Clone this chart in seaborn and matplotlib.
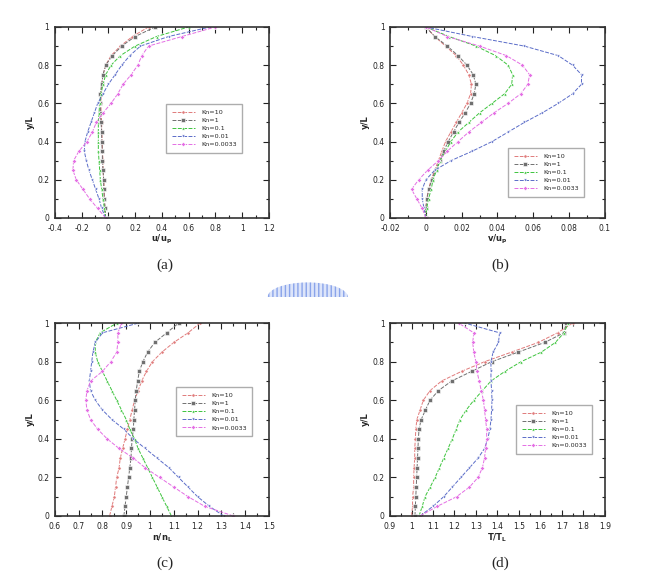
import matplotlib
matplotlib.use("Agg")
import matplotlib.pyplot as plt
import matplotlib.patches as mpatches
from matplotlib.ticker import MultipleLocator, AutoMinorLocator
import pandas as pd
import seaborn as sns

sns.set_style("ticks")
plt.rcParams['font.family'] = ['DejaVu Sans']

# y/L positions where values were read
y = [0, .05, .1, .15, .2, .25, .3, .35, .4, .45, .5, .55, .6, .65, .7, .75, .8, .85, .9, .95, 1.0]
kn_labels = ['Kn=10', 'Kn=1', 'Kn=0.1', 'Kn=0.01', 'Kn=0.0033']

# (a) u/u_p
u_kn10 = [-0.02, -0.025, -0.03, -0.03, -0.035, -0.04, -0.04, -0.045, -0.045, -0.05, -0.05,
          -0.055, -0.055, -0.055, -0.05, -0.04, -0.02, 0.02, 0.09, 0.18, 0.30]
u_kn1 = [-0.02, -0.025, -0.03, -0.035, -0.035, -0.04, -0.045, -0.045, -0.05, -0.05, -0.055,
         -0.06, -0.06, -0.06, -0.05, -0.04, -0.02, 0.03, 0.10, 0.20, 0.35]
u_kn01 = [-0.02, -0.03, -0.04, -0.05, -0.06, -0.065, -0.07, -0.075, -0.075, -0.075, -0.075,
          -0.07, -0.065, -0.055, -0.04, -0.02, 0.02, 0.09, 0.20, 0.36, 0.60]
u_kn001 = [-0.02, -0.05, -0.07, -0.095, -0.12, -0.145, -0.165, -0.18, -0.175, -0.155, -0.13,
           -0.105, -0.08, -0.04, 0.0, 0.05, 0.10, 0.16, 0.24, 0.45, 0.76]
u_kn0033 = [-0.02, -0.08, -0.14, -0.19, -0.24, -0.265, -0.26, -0.22, -0.16, -0.12, -0.09,
            -0.04, 0.02, 0.07, 0.11, 0.17, 0.22, 0.25, 0.30, 0.55, 0.80]

# (b) v/u_p
v_kn10 = [0, 0, 0.0005, 0.0015, 0.003, 0.005, 0.007, 0.009, 0.011, 0.014, 0.017,
          0.020, 0.023, 0.025, 0.0255, 0.024, 0.021, 0.017, 0.011, 0.005, 0]
v_kn1 = [0, 0, 0.0006, 0.0017, 0.0033, 0.0055, 0.0078, 0.010, 0.0125, 0.0155, 0.0185,
         0.022, 0.025, 0.027, 0.028, 0.0265, 0.023, 0.018, 0.012, 0.005, 0]
v_kn01 = [0, 0.0005, 0.0015, 0.003, 0.004, 0.006, 0.008, 0.011, 0.014, 0.018, 0.024,
          0.030, 0.037, 0.044, 0.048, 0.0485, 0.046, 0.039, 0.028, 0.013, 0]
v_kn001 = [0, -0.001, -0.002, -0.002, 0.0, 0.005, 0.014, 0.026, 0.037, 0.046, 0.055,
           0.065, 0.074, 0.082, 0.087, 0.087, 0.082, 0.074, 0.055, 0.026, 0]
v_kn0033 = [0, -0.002, -0.005, -0.008, -0.004, 0.001, 0.007, 0.012, 0.018, 0.024, 0.031,
            0.038, 0.046, 0.053, 0.057, 0.058, 0.054, 0.045, 0.030, 0.012, 0]

# (c) n/n_L
n_kn10 = [0.83, 0.84, 0.85, 0.855, 0.86, 0.87, 0.875, 0.885, 0.895, 0.905, 0.915,
          0.925, 0.935, 0.95, 0.965, 0.985, 1.01, 1.05, 1.10, 1.16, 1.21]
n_kn1 = [0.89, 0.895, 0.90, 0.905, 0.91, 0.915, 0.92, 0.922, 0.925, 0.93, 0.932,
         0.935, 0.938, 0.942, 0.948, 0.955, 0.97, 0.99, 1.02, 1.07, 1.12]
n_kn01 = [1.09, 1.07, 1.05, 1.03, 1.01, 0.99, 0.97, 0.95, 0.935, 0.915, 0.90,
          0.88, 0.86, 0.84, 0.82, 0.80, 0.78, 0.77, 0.77, 0.79, 0.86]
n_kn001 = [1.31, 1.25, 1.20, 1.16, 1.12, 1.08, 1.03, 0.98, 0.93, 0.89, 0.84,
           0.80, 0.77, 0.75, 0.745, 0.75, 0.755, 0.76, 0.77, 0.80, 0.95]
n_kn0033 = [1.35, 1.23, 1.16, 1.10, 1.04, 0.98, 0.93, 0.87, 0.82, 0.78, 0.75,
            0.735, 0.73, 0.735, 0.75, 0.80, 0.835, 0.86, 0.865, 0.865, 0.88]

# (d) T/T_L
t_kn10 = [1.0, 1.005, 1.005, 1.01, 1.01, 1.012, 1.015, 1.015, 1.018, 1.02, 1.025,
          1.04, 1.055, 1.086, 1.14, 1.233, 1.34, 1.466, 1.59, 1.68, 1.75]
t_kn1 = [1.016, 1.018, 1.02, 1.022, 1.024, 1.026, 1.028, 1.03, 1.032, 1.035, 1.045,
         1.065, 1.086, 1.125, 1.187, 1.28, 1.373, 1.497, 1.62, 1.71, 1.72]
t_kn01 = [1.035, 1.05, 1.063, 1.087, 1.11, 1.13, 1.15, 1.17, 1.19, 1.208, 1.226,
          1.255, 1.29, 1.33, 1.37, 1.435, 1.51, 1.605, 1.67, 1.71, 1.73]
t_kn001 = [1.04, 1.10, 1.15, 1.19, 1.23, 1.27, 1.31, 1.34, 1.355, 1.365, 1.37,
           1.373, 1.375, 1.373, 1.37, 1.37, 1.37, 1.38, 1.405, 1.41, 1.25]
t_kn0033 = [1.04, 1.12, 1.21, 1.27, 1.31, 1.33, 1.34, 1.345, 1.35, 1.35, 1.345,
            1.34, 1.335, 1.325, 1.315, 1.305, 1.30, 1.29, 1.285, 1.29, 1.22]

panels = [
    ('(a)', r'u/u$_\mathregular{p}$', (-0.4, 1.2), 0.2, [u_kn10, u_kn1, u_kn01, u_kn001, u_kn0033]),
    ('(b)', r'v/u$_\mathregular{p}$', (-0.02, 0.1), 0.02, [v_kn10, v_kn1, v_kn01, v_kn001, v_kn0033]),
    ('(c)', r'n/n$_\mathregular{L}$', (0.6, 1.5), 0.1, [n_kn10, n_kn1, n_kn01, n_kn001, n_kn0033]),
    ('(d)', r'T/T$_\mathregular{L}$', (0.9, 1.9), 0.1, [t_kn10, t_kn1, t_kn01, t_kn001, t_kn0033]),
]

colors = ['#e07a7a', '#707070', '#3cc43c', '#5a6cc8', '#e46ee4']
markers = ['o', 's', '^', 'v', 'D']

# axes rectangles in figure fractions [left, bottom, width, height]
rects = [[0.082, 0.628, 0.320, 0.326], [0.583, 0.628, 0.321, 0.326],
         [0.082, 0.1195, 0.320, 0.329], [0.583, 0.1195, 0.321, 0.329]]
leg_anchor = [(0.519, 0.597), (0.549, 0.366), (0.565, 0.668), (0.586, 0.575)]
caption_pos = [(0.247, 0.535), (0.748, 0.535), (0.247, 0.027), (0.748, 0.027)]

fig = plt.figure(figsize=(6.69, 5.86), dpi=100)


def fmt(v, p):
    return '0' if abs(v) < 1e-9 else f'{v:.10g}'


for i, (tag, xlab, xlim, step, series) in enumerate(panels):
    ax = fig.add_axes(rects[i])
    rows = []
    for lab, vals in zip(kn_labels, series):
        for yy, vv in zip(y, vals):
            rows.append({'x': vv, 'y': yy, 'Kn': lab})
    df = pd.DataFrame(rows)
    sns.lineplot(data=df, x='x', y='y', hue='Kn', style='Kn', palette=colors,
                 markers=markers, dashes=[(4, 1.5)] * 5, sort=False, estimator=None,
                 linewidth=0.7, markersize=2.3, markeredgewidth=0.4, ax=ax)
    ax.set_xlim(*xlim)
    ax.set_ylim(0, 1)
    ax.xaxis.set_major_locator(MultipleLocator(step))
    ax.yaxis.set_major_locator(MultipleLocator(0.2))
    ax.xaxis.set_minor_locator(AutoMinorLocator(2))
    ax.yaxis.set_minor_locator(AutoMinorLocator(2))
    ax.xaxis.set_major_formatter(plt.FuncFormatter(fmt))
    ax.yaxis.set_major_formatter(plt.FuncFormatter(fmt))
    ax.tick_params(which='both', direction='in', top=True, right=True, labelsize=5.5,
                   width=0.8, colors='#222222')
    ax.tick_params(axis='x', pad=4)
    ax.tick_params(axis='y', pad=4)
    ax.tick_params(which='major', length=4)
    ax.tick_params(which='minor', length=2)
    for s in ax.spines.values():
        s.set_linewidth(1.2)
        s.set_color('#333333')
    ax.set_xlabel(xlab, fontsize=6, fontweight='bold', labelpad=0.5)
    ax.set_ylabel('y/L', fontsize=6, fontweight='bold', labelpad=2)
    h, l = ax.get_legend_handles_labels()
    ax.legend(h, l, loc='upper left', bbox_to_anchor=leg_anchor[i], fontsize=4.6,
              frameon=True, fancybox=False, edgecolor='#999999', handlelength=3.6,
              borderpad=0.9, labelspacing=0.4, handletextpad=1.0, borderaxespad=0)
    fig.text(caption_pos[i][0], caption_pos[i][1], tag, ha='center', va='bottom',
             fontsize=11, family='Liberation Serif')

# pale blue striped watermark between the panels
logo = mpatches.Ellipse((0.46, 0.493), 0.12, 0.05, transform=fig.transFigure,
                        facecolor='#dde5fa', edgecolor='#8aa4ea', hatch='||||', linewidth=0)
clip = mpatches.Rectangle((0.39, 0.493), 0.14, 0.03, transform=fig.transFigure)
fig.patches.append(logo)
logo.set_clip_path(clip)

fig.savefig('out.png', dpi=100)
